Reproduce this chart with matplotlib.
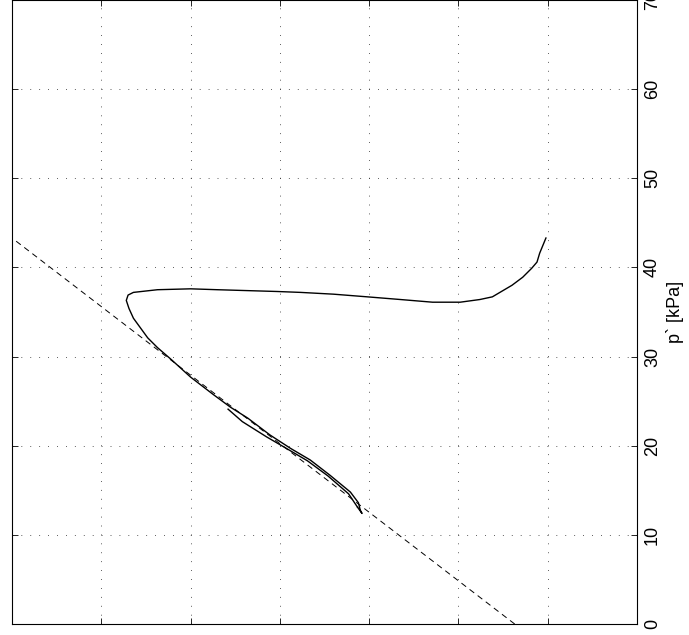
import matplotlib.pyplot as plt

plt.rcParams["font.family"] = ["Liberation Sans", "DejaVu Sans"]

# stress path: q (horizontal, grows to the left), p' (vertical)
q_path = [0.2, 0.9, 1.2, 1.8, 2.8, 4.0, 6.2, 7.6, 9.8, 11.7, 12.9, 16.5, 20.2, 24.0,
          27.7, 30.3, 37.0, 40.0, 43.7, 46.4, 47.0, 47.2, 46.9, 46.4, 45.6, 44.8,
          43.7, 42.2, 40.0, 37.4, 35.5, 33.6, 31.1, 28.8, 26.6, 24.4, 22.1, 21.2,
          21.0, 20.8, 21.3]
p_path = [43.3, 41.6, 40.6, 39.9, 38.9, 38.0, 36.7, 36.4, 36.1, 36.1, 36.1, 36.4,
          36.7, 37.0, 37.2, 37.3, 37.5, 37.6, 37.5, 37.2, 36.9, 36.3, 35.4, 34.3,
          33.2, 32.1, 31.0, 29.7, 27.7, 25.7, 24.3, 23.1, 21.2, 19.7, 18.4, 16.7,
          14.8, 13.6, 12.8, 12.4, 13.1]

# short return branch that thickens the lower part of the path
q_back = [21.3, 22.3, 24.6, 26.9, 29.1, 31.5, 34.2, 35.8]
p_back = [13.1, 14.6, 16.6, 18.3, 19.6, 21.0, 22.7, 24.1]

# dashed reference line
line_q = [3.7, 60.0]
line_p = [0.0, 43.3]

p_ticks = [0, 10, 20, 30, 40, 50, 60, 70]
q_ticks = [-10, 0, 10, 20, 30, 40, 50, 60]

fig = plt.figure(figsize=(6.89, 6.35), dpi=100)
ax = fig.add_axes([12 / 689, 11 / 635, 625 / 689, 624 / 635])

ax.plot(q_path, p_path, color="k", lw=1.0)
ax.plot(q_back, p_back, color="k", lw=1.0)
ax.plot(line_q, line_p, color="k", lw=0.7, ls=(0, (6, 4.5)))

ax.set_xlim(60, -10)
ax.set_ylim(0, 70)
ax.set_xticks(q_ticks)
ax.set_yticks(p_ticks)
ax.grid(True, color="0.15", lw=0.6, ls=(0, (1, 9.7)))

ax.tick_params(direction="in", length=4.5, width=0.6, top=True, bottom=True,
               left=True, right=True, labelleft=False, labelbottom=False,
               labelright=True, labelsize=13)
ax.tick_params(axis="y", labelrotation=90, pad=5)
for lab in ax.get_yticklabels():
    lab.set_verticalalignment("center")

ax.yaxis.set_label_position("right")
ax.set_ylabel("p` [kPa]", fontsize=13, labelpad=4)

for s in ax.spines.values():
    s.set_linewidth(0.8)

fig.savefig("out.png", dpi=100)
